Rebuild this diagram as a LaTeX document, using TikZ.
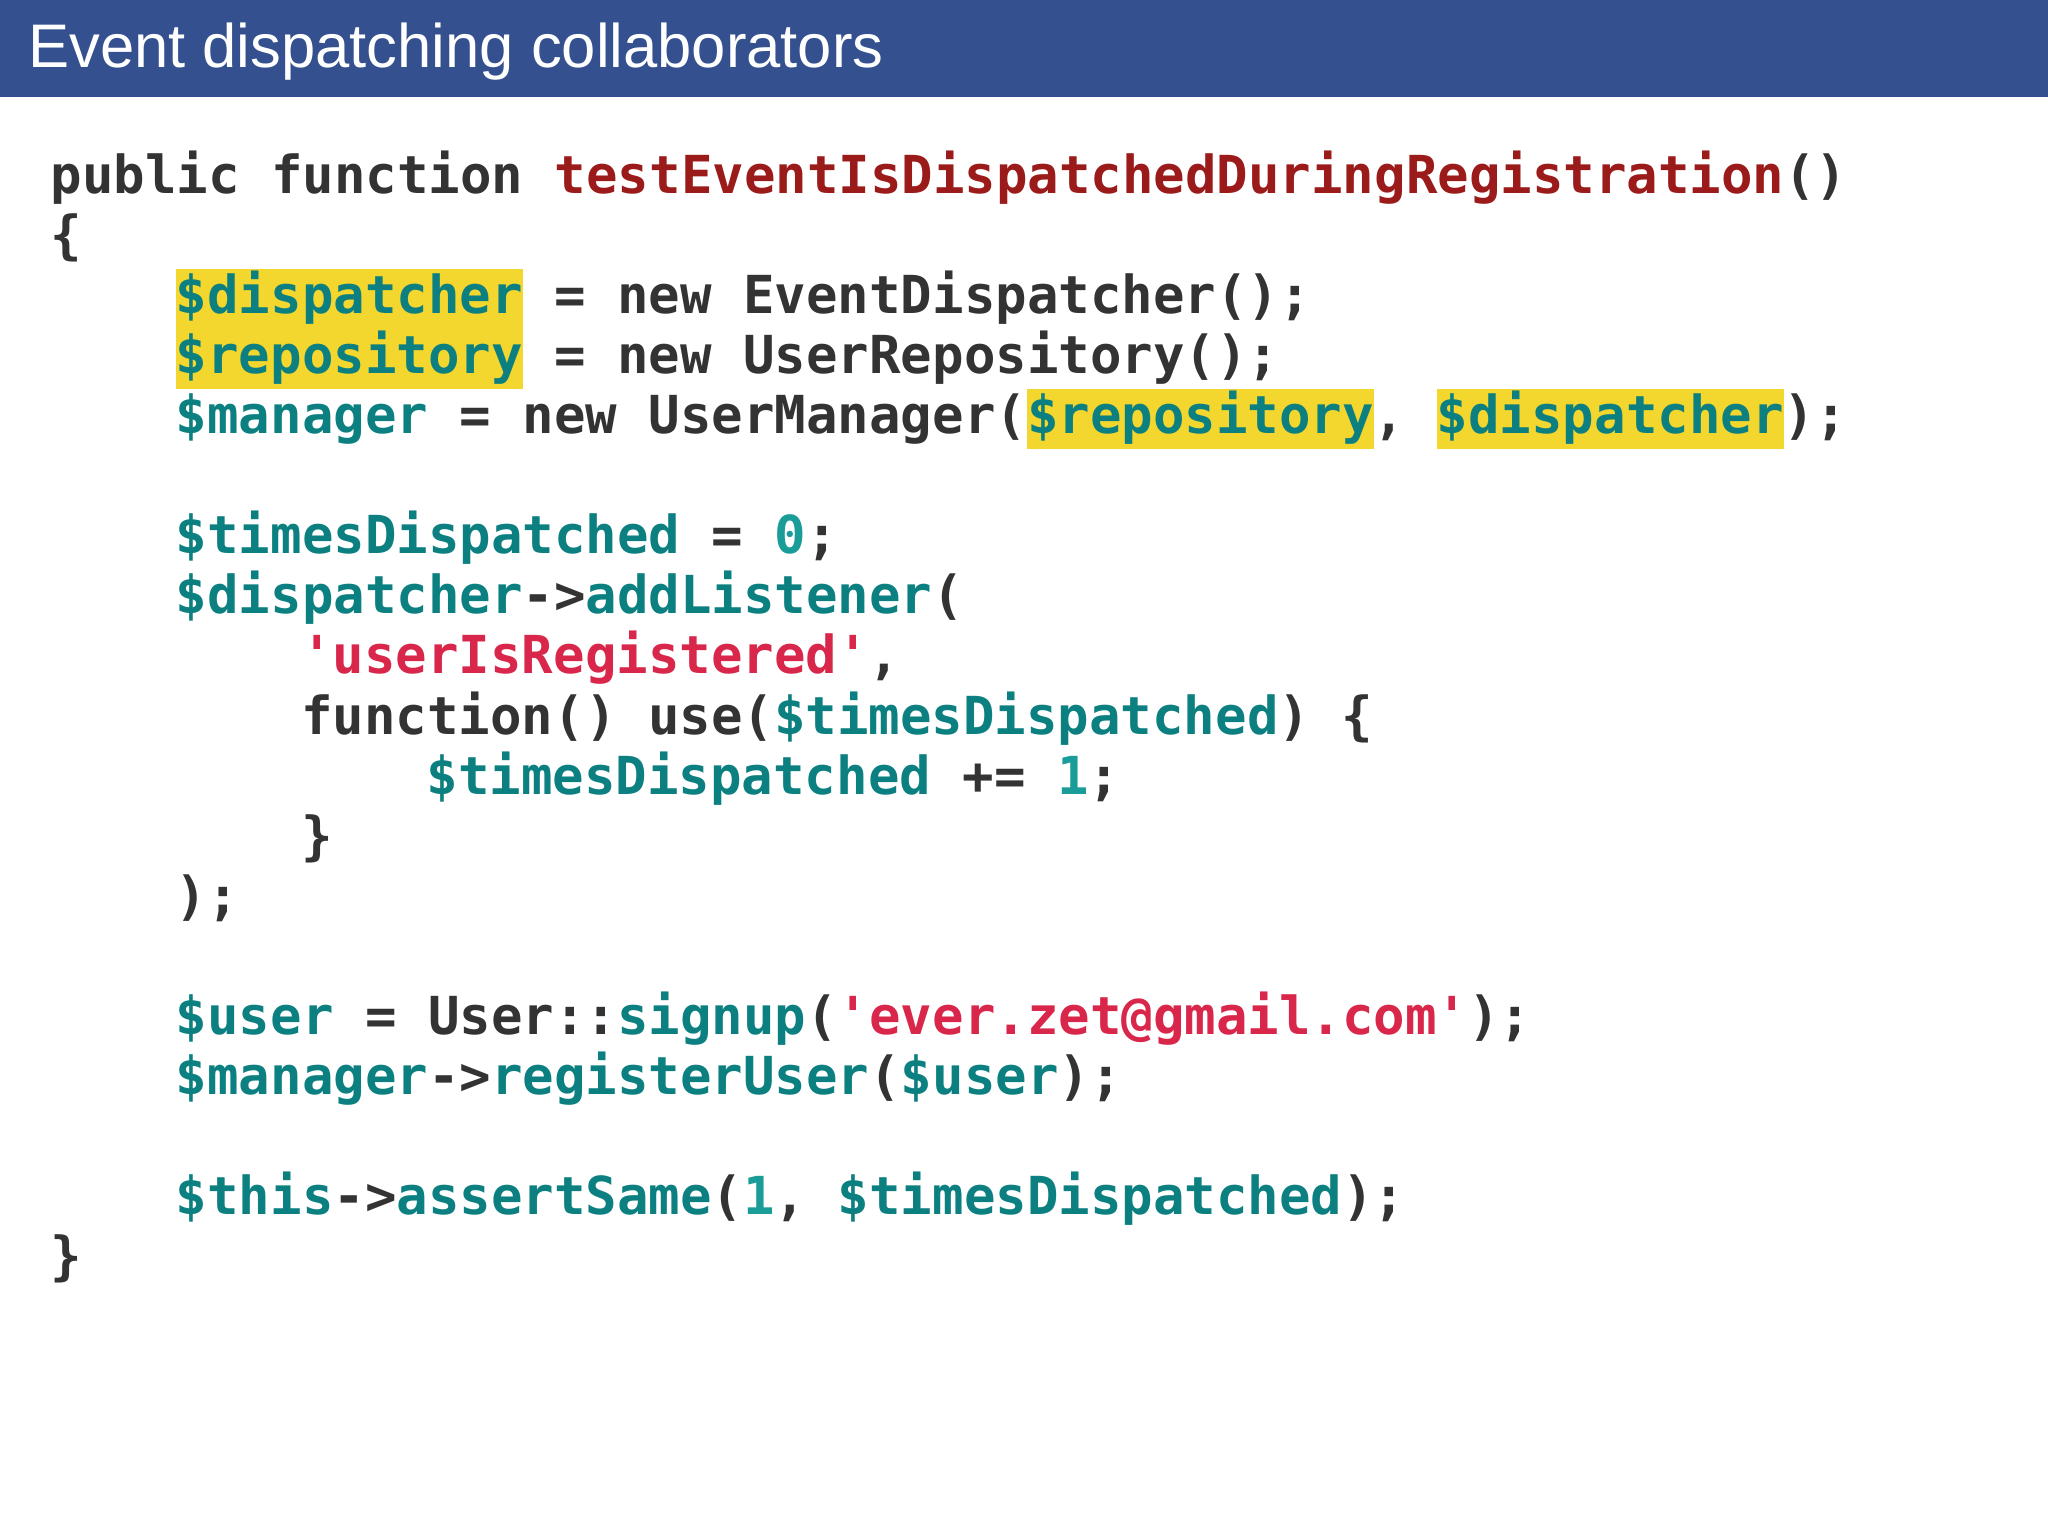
\documentclass[tikz,border=0pt]{standalone}
\usepackage{fontspec}
\setmainfont{Liberation Sans}
\setmonofont{DejaVu Sans Mono}
\definecolor{bar}{HTML}{34508F}
\definecolor{tl}{HTML}{0C8080}
\definecolor{nm}{HTML}{1A9C98}
\definecolor{dk}{HTML}{333333}
\definecolor{fn}{HTML}{9B1B1B}
\definecolor{st}{HTML}{D8274A}
\definecolor{hy}{HTML}{F3D62E}
\newcommand{\V}[1]{\textcolor{tl}{#1}}
\newcommand{\Nm}[1]{\textcolor{nm}{#1}}
\newcommand{\Fn}[1]{\textcolor{fn}{#1}}
\newcommand{\Sr}[1]{\textcolor{st}{#1}}
\newcommand{\hlt}[1]{{\setlength{\fboxsep}{0pt}\colorbox{hy}{\rule[-0.3em]{0pt}{1.15em}\V{#1}}}}
\tikzset{cl/.style={anchor=base west,inner sep=0pt,text=dk,font=\ttfamily\bfseries\fontsize{11.4pt}{13pt}\selectfont}}
\begin{document}
\begin{tikzpicture}[x=0.01cm,y=-0.01cm]
\useasboundingbox (0,0) rectangle (1568,1176);
\fill[bar] (0,0) rectangle (1568,74);
\node[anchor=base west,inner sep=0pt,text=white,font=\fontsize{13.4pt}{16pt}\selectfont] (title) at (21,52) {Event dispatching collaborators};
\node[cl] (l1) at (38,148) {public function \Fn{testEventIsDispatchedDuringRegistration}()};
\node[cl] (l2) at (38,194) {\{};
\node[cl] (l3) at (134,240) {\hlt{\$dispatcher} = new EventDispatcher();};
\node[cl] (l4) at (134,286) {\hlt{\$repository} = new UserRepository();};
\node[cl] (l5) at (134,332) {\V{\$manager} = new UserManager(\hlt{\$repository}, \hlt{\$dispatcher});};
\node[cl] (l6) at (134,424) {\V{\$timesDispatched} = \Nm{0};};
\node[cl] (l7) at (134,470) {\V{\$dispatcher}->\V{addListener}(};
\node[cl] (l8) at (230,516) {\Sr{'userIsRegistered'},};
\node[cl] (l9) at (230,562) {function() use(\V{\$timesDispatched}) \{};
\node[cl] (l10) at (326,608) {\V{\$timesDispatched} += \Nm{1};};
\node[cl] (l11) at (230,654) {\}};
\node[cl] (l12) at (134,700) {);};
\node[cl] (l13) at (134,792) {\V{\$user} = User::\V{signup}(\Sr{'ever.zet@gmail.com'});};
\node[cl] (l14) at (134,838) {\V{\$manager}->\V{registerUser}(\V{\$user});};
\node[cl] (l15) at (134,930) {\V{\$this}->\V{assertSame}(\Nm{1}, \V{\$timesDispatched});};
\node[cl] (l16) at (38,976) {\}};
\end{tikzpicture}
\end{document}
